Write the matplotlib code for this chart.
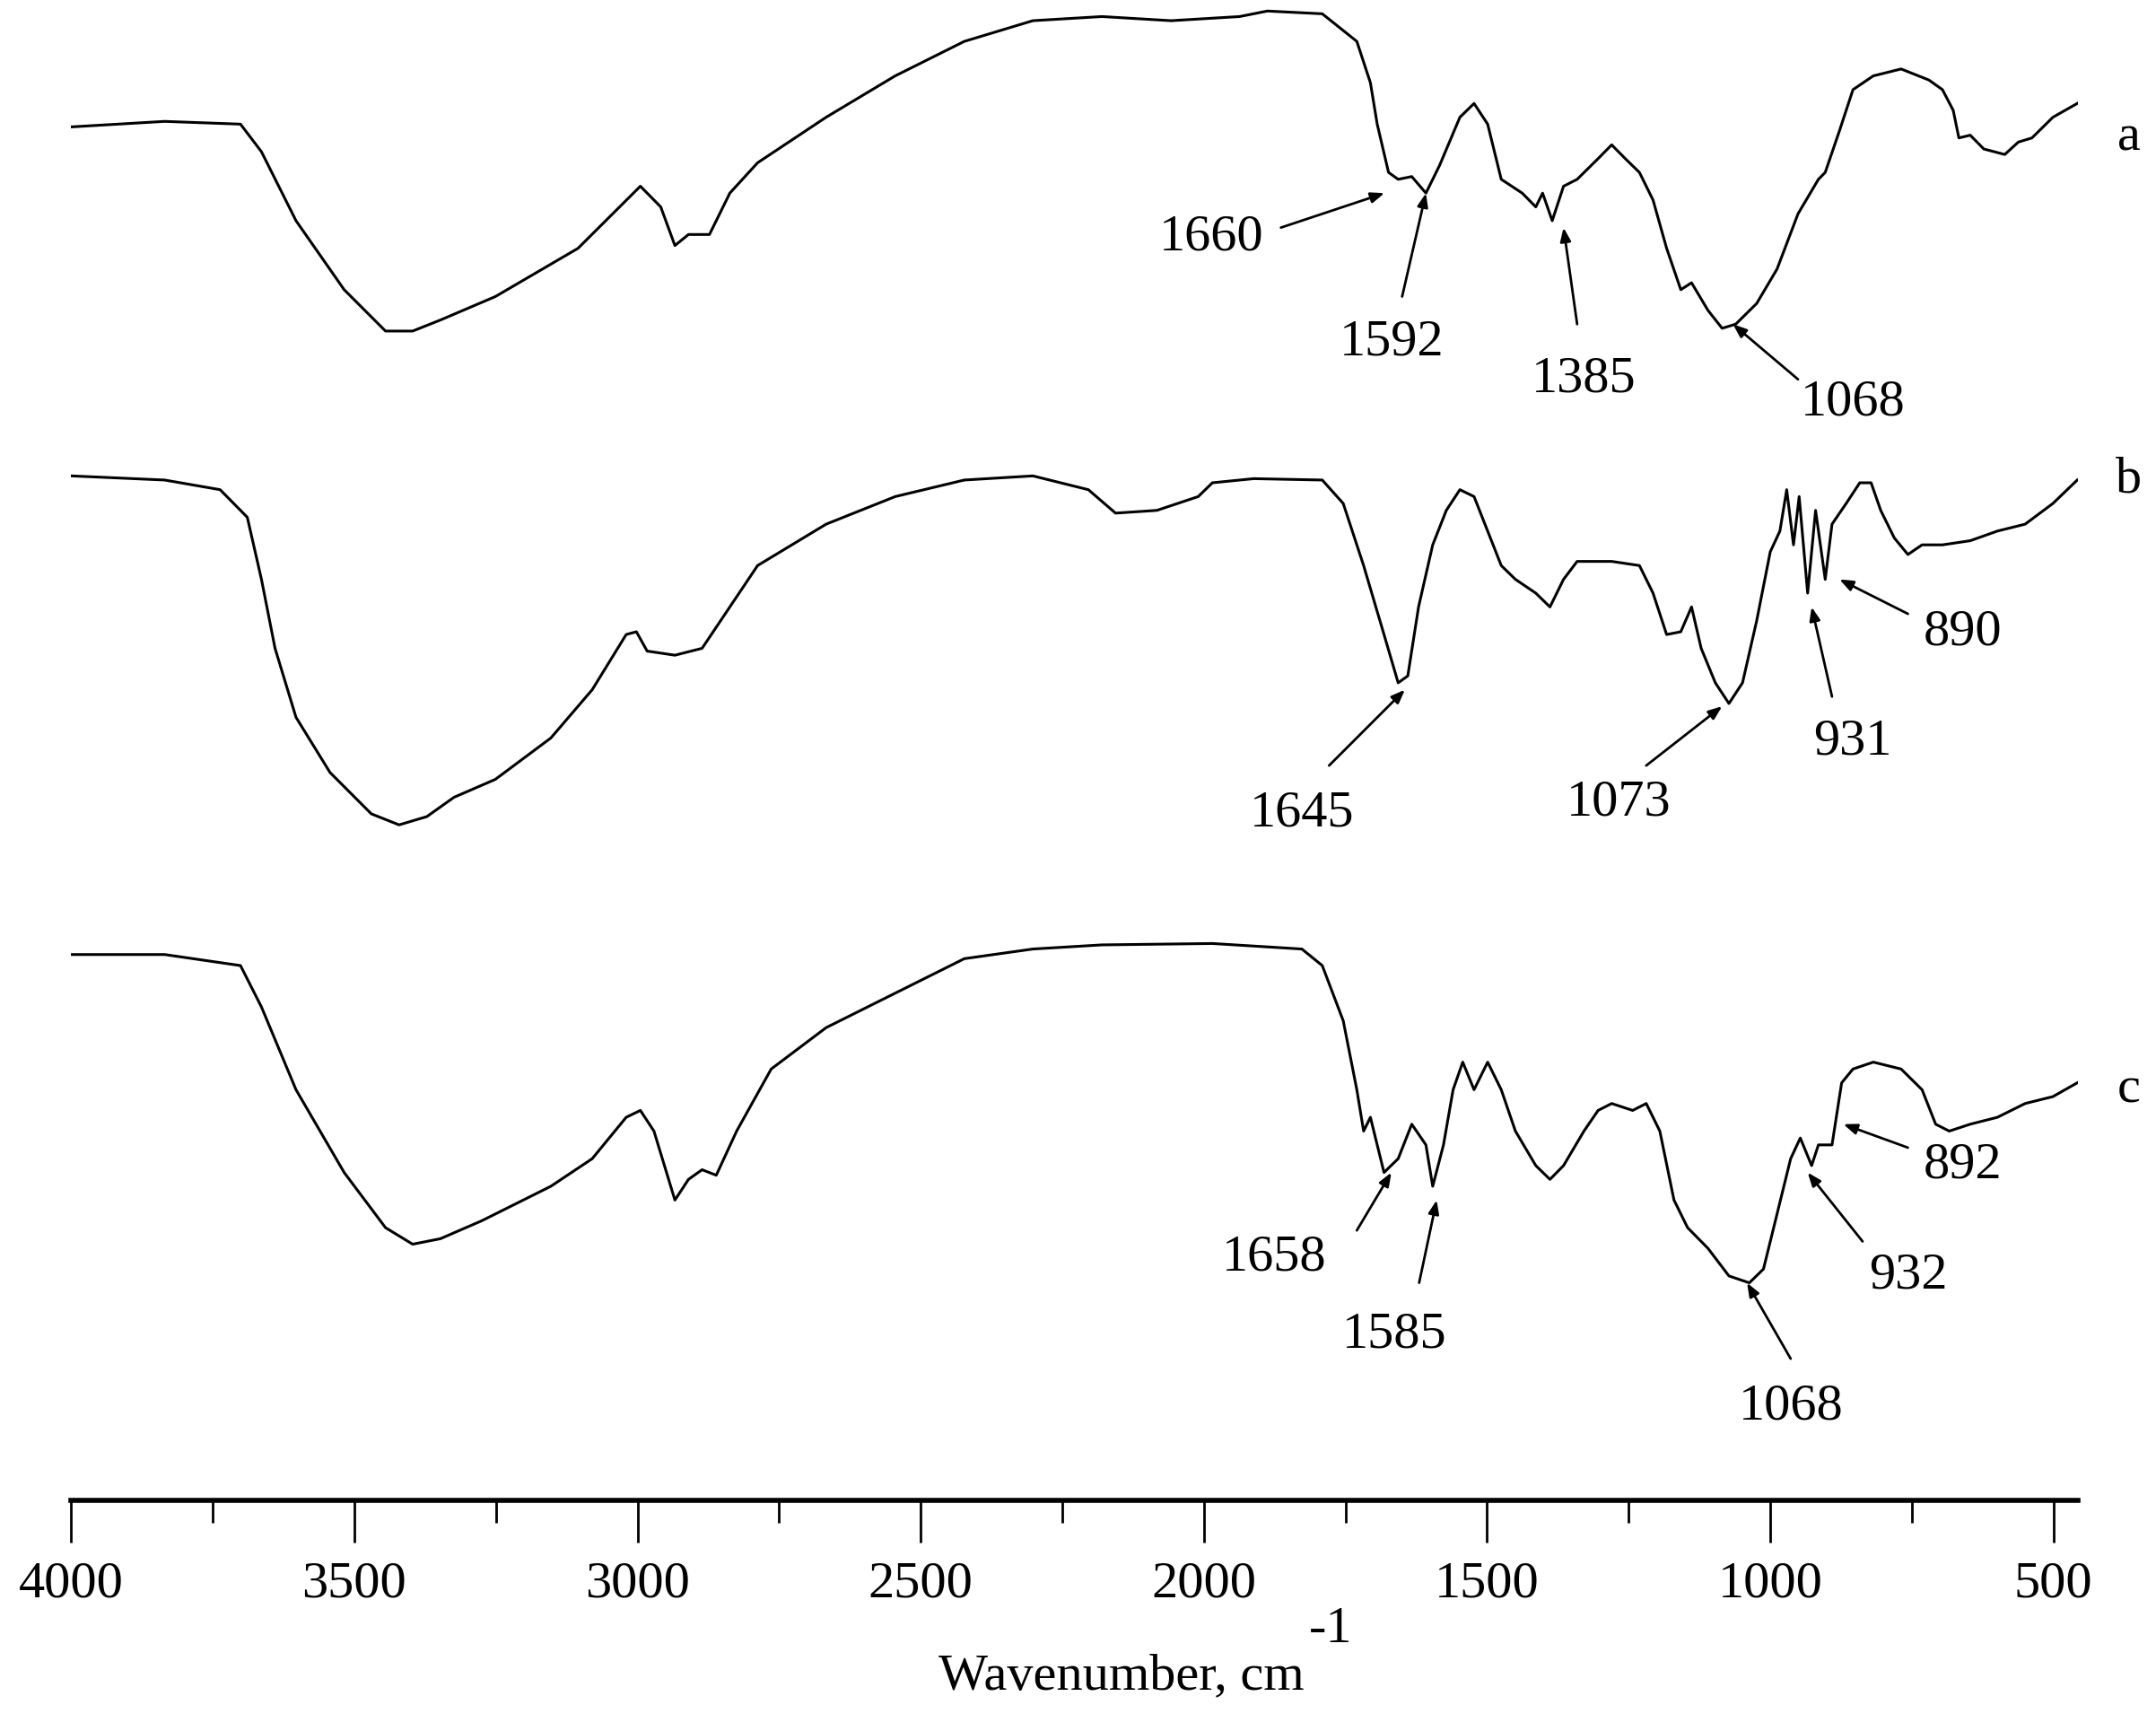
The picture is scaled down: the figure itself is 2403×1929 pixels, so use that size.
import matplotlib
matplotlib.use("Agg")
import matplotlib.pyplot as plt

plt.rcParams["font.family"] = ["Liberation Serif", "DejaVu Serif"]

# curve a
wn_a = [4000, 3835, 3701, 3664, 3603, 3518, 3445, 3397, 3348, 3251, 3105, 2995, 2959, 2934, 2910, 2873,
        2837, 2788, 2667, 2545, 2423, 2302, 2180, 2058, 1937, 1888, 1791, 1730, 1706, 1694, 1674, 1657,
        1633, 1608, 1584, 1548, 1523, 1499, 1475, 1438, 1414, 1402, 1385, 1365, 1341, 1304, 1280, 1256,
        1231, 1207, 1183, 1158, 1139, 1110, 1085, 1061, 1024, 988, 951, 915, 903, 878, 854, 818, 769,
        720, 696, 677, 667, 647, 623, 586, 562, 538, 501, 458]
t_a = [99.6, 100, 99.8, 97.8, 92.8, 87.8, 84.8, 84.8, 85.6, 87.3, 90.8, 95.3, 93.8, 91.0, 91.8, 91.8,
       94.8, 97.0, 100.3, 103.3, 105.8, 107.3, 107.6, 107.3, 107.6, 108.0, 107.8, 105.8, 102.8, 99.8, 96.3, 95.8,
       96.0, 94.8, 96.8, 100.3, 101.3, 99.8, 95.8, 94.8, 93.8, 94.8, 92.8, 95.3, 95.8, 97.3, 98.3, 97.3,
       96.3, 94.3, 90.8, 87.8, 88.3, 86.3, 85.0, 85.3, 86.8, 89.3, 93.3, 95.8, 96.3, 99.3, 102.3, 103.3, 103.8,
       103.0, 102.3, 100.8, 98.8, 99.0, 98.0, 97.6, 98.5, 98.8, 100.3, 101.3]

# curve b
wn_b = [4000, 3835, 3737, 3689, 3664, 3640, 3603, 3543, 3470, 3421, 3372, 3324, 3251, 3153, 3080, 3020,
        3002, 2983, 2934, 2886, 2837, 2788, 2667, 2545, 2423, 2302, 2204, 2156, 2083, 2010, 1985, 1912,
        1791, 1754, 1718, 1682, 1657, 1640, 1621, 1596, 1572, 1548, 1523, 1499, 1475, 1450, 1414, 1389,
        1365, 1341, 1280, 1231, 1207, 1183, 1158, 1139, 1122, 1097, 1073, 1049, 1024, 1000, 983, 971,
        959, 949, 934, 920, 903, 891, 866, 842, 822, 805, 781, 757, 732, 696, 647, 599, 550, 501, 458]
t_b = [74.3, 74.0, 73.3, 71.3, 66.8, 61.8, 56.8, 52.8, 49.8, 49.0, 49.6, 51.0, 52.3, 55.3, 58.8, 62.8,
       63.0, 61.6, 61.3, 61.8, 64.8, 67.8, 70.8, 72.8, 74.0, 74.3, 73.3, 71.6, 71.8, 72.8, 73.8, 74.1,
       74.0, 72.3, 67.8, 62.8, 59.3, 59.8, 64.8, 69.3, 71.8, 73.3, 72.8, 70.3, 67.8, 66.8, 65.8, 64.8,
       66.8, 68.1, 68.1, 67.8, 65.8, 62.8, 63.0, 64.8, 61.8, 59.3, 57.8, 59.3, 63.8, 68.8, 70.3, 73.3,
       69.3, 72.8, 65.8, 71.8, 66.8, 70.8, 72.3, 73.8, 73.8, 71.8, 69.8, 68.6, 69.3, 69.3, 69.6, 70.3, 70.8, 72.3, 74.0]

# curve c
wn_c = [4000, 3835, 3701, 3664, 3603, 3518, 3445, 3397, 3348, 3275, 3153, 3080, 3020, 2995, 2971, 2934,
        2910, 2886, 2861, 2825, 2764, 2667, 2545, 2423, 2302, 2180, 1985, 1827, 1791, 1754, 1730, 1718,
        1706, 1682, 1657, 1633, 1608, 1596, 1577, 1560, 1543, 1523, 1499, 1475, 1450, 1414, 1389, 1365,
        1329, 1304, 1280, 1243, 1219, 1195, 1170, 1146, 1110, 1073, 1037, 1012, 988, 964, 947, 927, 915,
        891, 874, 854, 818, 769, 732, 708, 684, 647, 599, 550, 501, 458]
t_c = [39.6, 39.6, 38.8, 35.8, 29.8, 23.8, 19.8, 18.6, 19.0, 20.3, 22.8, 24.8, 27.8, 28.3, 26.8, 21.8,
       23.3, 24.0, 23.6, 26.8, 31.3, 34.3, 36.8, 39.3, 40.0, 40.3, 40.4, 40.0, 38.8, 34.8, 29.8, 26.8,
       27.8, 23.8, 24.8, 27.3, 25.8, 22.8, 25.8, 29.8, 31.8, 29.8, 31.8, 29.8, 26.8, 24.3, 23.3, 24.3,
       26.8, 28.3, 28.8, 28.3, 28.8, 26.8, 21.8, 19.8, 18.3, 16.3, 15.8, 16.8, 20.8, 24.8, 26.3, 24.3, 25.8,
       25.8, 30.3, 31.3, 31.8, 31.3, 29.8, 27.3, 26.8, 27.3, 27.8, 28.8, 29.3, 30.3]

# annotations: label, text pos, arrow tail, arrow head
peak_labels = ["1660", "1592", "1385", "1068", "1645", "1073", "931", "890",
               "1658", "1585", "1068", "932", "892"]
label_pos = [(1986, 91.6), (1669, 84.0), (1329, 81.3), (854, 79.6),
             (1827, 49.8), (1268, 50.6), (854, 55.0), (660, 63.0),
             (1876, 17.6), (1664, 12.0), (964, 6.8), (757, 16.3), (660, 24.3)]
arrow_tail = [(1864, 92.3), (1650, 87.3), (1341, 85.3), (951, 81.3),
              (1779, 53.3), (1219, 53.3), (891, 58.3), (757, 64.3),
              (1730, 19.6), (1620, 15.8), (964, 10.3), (837, 18.8), (757, 25.6)]
arrow_head = [(1681, 94.8), (1608, 94.8), (1365, 92.3), (1066, 85.3),
              (1645, 58.8), (1085, 57.6), (927, 64.8), (878, 66.8),
              (1669, 23.8), (1589, 21.8), (1041, 15.8), (934, 23.8), (871, 27.3)]

curve_names = ["a", "b", "c"]
curve_name_pos = [(367, 98.8), (367, 74.0), (367, 29.8)]

fig = plt.figure(figsize=(24.03, 19.29), dpi=100)
ax = fig.add_axes([0.033, 0.133, 0.931, 0.867])

for wn, t in [(wn_a, t_a), (wn_b, t_b), (wn_c, t_c)]:
    ax.plot(wn, t, color="black", lw=2.2)

for lab, tp, tail, head in zip(peak_labels, label_pos, arrow_tail, arrow_head):
    ax.annotate("", xy=head, xytext=tail,
                arrowprops=dict(arrowstyle="-|>,head_length=0.9,head_width=0.35",
                                color="black", lw=2, shrinkA=0, shrinkB=0))
    ax.text(tp[0], tp[1], lab, ha="center", va="center", fontsize=42)

for name, pos in zip(curve_names, curve_name_pos):
    ax.text(pos[0], pos[1], name, ha="center", va="center", fontsize=42, clip_on=False)

ax.set_xlim(4000, 456)
ax.set_ylim(0, 108.8)
ax.set_xticks([4000, 3500, 3000, 2500, 2000, 1500, 1000, 500])
ax.set_xticks(range(3750, 456, -500), minor=True)
ax.tick_params(axis="x", which="major", length=34, width=2, labelsize=42, direction="out", pad=14)
ax.tick_params(axis="x", which="minor", length=18, width=2, direction="out")
ax.set_yticks([])
for s in ["top", "left", "right"]:
    ax.spines[s].set_visible(False)
ax.spines["bottom"].set_linewidth(4)

# axis title with large raised superscript
fig.text(0.52, 0.018, "Wavenumber, cm", ha="center", va="bottom", fontsize=42)
fig.text(0.617, 0.045, "-1", ha="center", va="bottom", fontsize=42)

fig.savefig("out.png", dpi=100)
